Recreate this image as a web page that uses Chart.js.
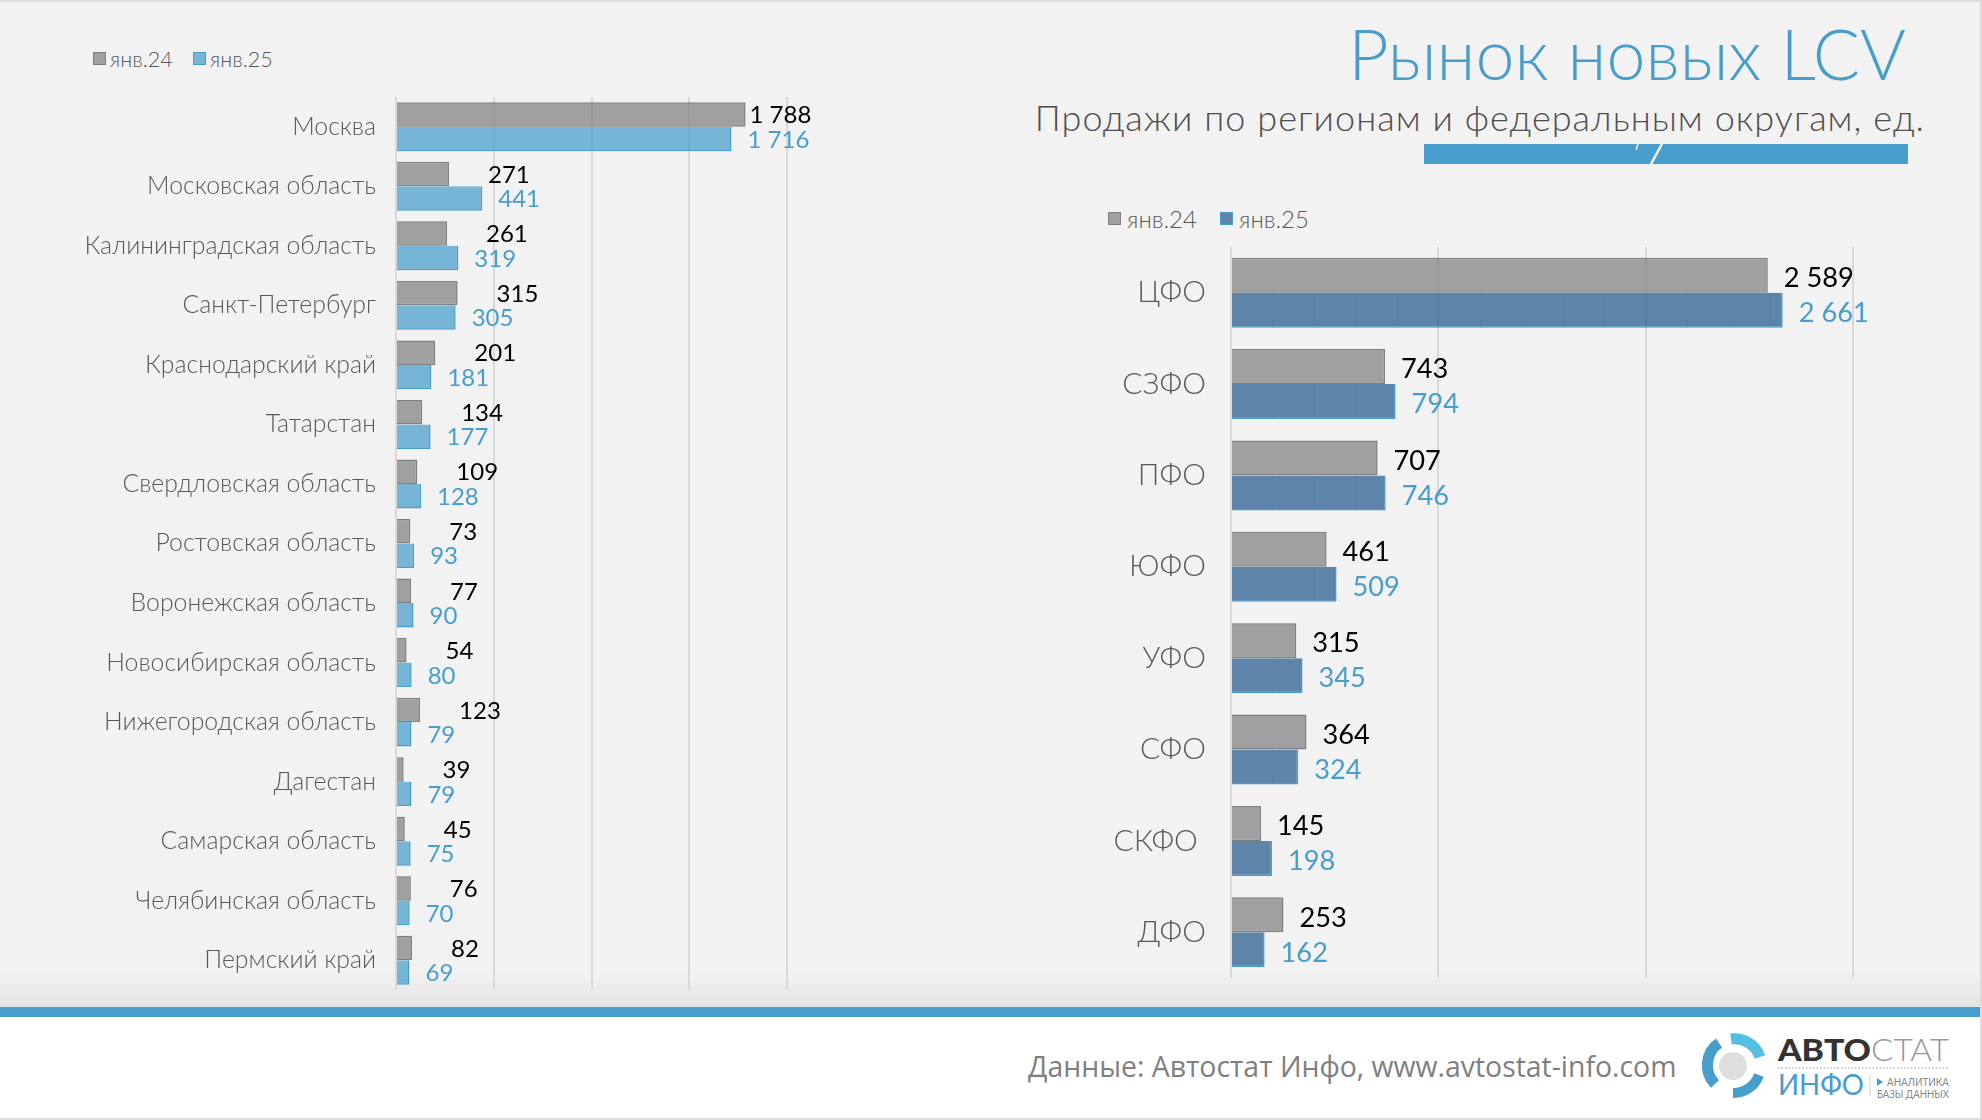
<!DOCTYPE html>
<html lang="ru">
<head>
<meta charset="utf-8">
<title>Рынок новых LCV</title>
<script src="https://cdn.jsdelivr.net/npm/chart.js@4/dist/chart.umd.min.js"></script>
<style>
  html, body { margin: 0; padding: 0; }
  body { width: 1982px; height: 1120px; position: relative; overflow: hidden; background: #f2f2f2; font-family: Lato, "Open Sans", sans-serif; }
  .abs { position: absolute; white-space: nowrap; }
  canvas { position: absolute; display: block; }
  #topline { left: 0; top: 0; width: 1982px; height: 2px; background: #dcdcdc; }
  #rightline { left: 1980px; top: 0; width: 2px; height: 1120px; background: #dcdcdc; }
  #shade { left: 0; top: 972px; width: 1982px; height: 35px; background: linear-gradient(#f2f2f2, #e3e3e3); }
  #stripe { left: 0; top: 1007px; width: 1982px; height: 10px; background: #479dcb; }
  #footer { left: 0; top: 1017px; width: 1982px; height: 101px; background: #fff; border-bottom: 2px solid #dcdcdc; }
  #title { right: 76px; top: 11px; font-size: 70px; line-height: 84px; color: #479dcb; font-weight: 300; }
  #subtitle { right: 57px; top: 95px; font-size: 36px; letter-spacing: 1.05px; line-height: 44px; color: #4d4d4d; font-weight: 300; }
  #source { left: 1028px; top: 1046px; font-family: "Open Sans", sans-serif; font-size: 28.4px; line-height: 40px; color: #7f7f7f; }
  .legend { line-height: 26px; color: #595959; font-weight: 300; }
  .legend i { position: absolute; top: 6px; width: 11px; height: 11px; border: 1px solid; }
  .legend span { position: absolute; top: 0; }
</style>
</head>
<body>
<div class="abs" id="topline"></div>
<div class="abs" id="shade"></div>
<div class="abs" id="stripe"></div>
<div class="abs" id="footer"></div>
<div class="abs" id="rightline"></div>

<div class="abs" id="title">Рынок новых LCV</div>
<div class="abs" id="subtitle">Продажи по регионам и федеральным округам, ед.</div>
<svg class="abs" style="left:1424px;top:144px" width="484" height="20">
  <rect width="484" height="20" fill="#479dcb"/>
  <path d="M238 0 L227 20" stroke="#f2f2f2" stroke-width="2.5"/>
  <path d="M214 0 L212 6" stroke="#f2f2f2" stroke-width="1.5"/>
</svg>

<div class="abs legend" id="legendLeft" style="left:0;top:46px;font-size:21.5px"></div>
<div class="abs legend" id="legendRight" style="left:0;top:206px;font-size:24px"></div>

<canvas id="regionChart" style="left:0;top:97px" width="900" height="893"></canvas>
<canvas id="districtChart" style="left:1000px;top:247px" width="980" height="731"></canvas>

<div class="abs" id="source">Данные: Автостат Инфо, www.avtostat-info.com</div>

<svg class="abs" style="left:1700px;top:1030px" width="260" height="75" font-family="Lato, sans-serif">
  <circle cx="33" cy="36" r="14" fill="#dedede"/>
  <path d="M31 9 A27 27 0 0 1 60 27" fill="none" stroke="#54bfe0" stroke-width="11"/>
  <path d="M19 13 A27 27 0 0 0 15 54" fill="none" stroke="#479dcb" stroke-width="11"/>
  <path d="M59 45 A27 27 0 0 1 33 63" fill="none" stroke="#479dcb" stroke-width="10"/>
  <text x="78" y="31" font-size="31" font-weight="900" fill="#333" textLength="93" lengthAdjust="spacingAndGlyphs">АВТО</text>
  <text x="171" y="31" font-size="31" font-weight="300" fill="#999" textLength="78" lengthAdjust="spacingAndGlyphs">СТАТ</text>
  <line x1="78" y1="38" x2="249" y2="38" stroke="#bbb" stroke-width="1.5" stroke-dasharray="1.5 2"/>
  <text x="78" y="65" font-size="28" fill="#479dcb" textLength="86" lengthAdjust="spacingAndGlyphs">ИНФО</text>
  <line x1="170" y1="45" x2="170" y2="66" stroke="#ccc" stroke-width="1"/>
  <path d="M177 48 L183 52 L177 56 Z" fill="#479dcb"/>
  <text x="187" y="56" font-size="11" fill="#888" textLength="62" lengthAdjust="spacingAndGlyphs">АНАЛИТИКА</text>
  <text x="177" y="68" font-size="11" fill="#888" textLength="72" lengthAdjust="spacingAndGlyphs">БАЗЫ ДАННЫХ</text>
</svg>

<script>
// данные с картинки
const seriesNames = ['янв.24', 'янв.25'];

const regions = ['Москва', 'Московская область', 'Калининградская область', 'Санкт-Петербург',
  'Краснодарский край', 'Татарстан', 'Свердловская область', 'Ростовская область',
  'Воронежская область', 'Новосибирская область', 'Нижегородская область', 'Дагестан',
  'Самарская область', 'Челябинская область', 'Пермский край'];
const regions24 = [1788, 271, 261, 315, 201, 134, 109, 73, 77, 54, 123, 39, 45, 76, 82];
const regions25 = [1716, 441, 319, 305, 181, 177, 128, 93, 90, 80, 79, 79, 75, 70, 69];

const districts = ['ЦФО', 'СЗФО', 'ПФО', 'ЮФО', 'УФО', 'СФО', 'СКФО\u00a0', 'ДФО'];
const districts24 = [2589, 743, 707, 461, 315, 364, 145, 253];
const districts25 = [2661, 794, 746, 509, 345, 324, 198, 162];

const GRAY_FILL = 'rgba(127,127,127,0.72)', GRAY_LINE = '#7f7f7f';
const SKY_FILL = 'rgba(71,157,203,0.72)', BLUE_LINE = '#479dcb';
const STEEL_FILL = 'rgba(33,85,139,0.7)';
const FONT = 'Lato, "Open Sans", sans-serif';

function fmt(v) {
  return String(v).replace(/\B(?=(\d{3})+$)/g, ' ');
}

// подписи значений: левый край на заданном расстоянии от конца столбца
const valueLabels = {
  id: 'valueLabels',
  afterDatasetsDraw(chart, args, opts) {
    const ctx = chart.ctx;
    ctx.save();
    ctx.font = opts.size + 'px ' + FONT;
    ctx.textBaseline = 'middle';
    ctx.textAlign = 'left';
    chart.data.datasets.forEach((ds, d) => {
      chart.getDatasetMeta(d).data.forEach((bar, i) => {
        const gap = typeof opts.gaps[d] === 'function' ? opts.gaps[d](i) : opts.gaps[d];
        ctx.fillStyle = d === 0 ? '#000' : BLUE_LINE;
        ctx.fillText(fmt(ds.data[i]), bar.x + gap, bar.y + opts.dy);
      });
    });
    ctx.restore();
  }
};

// тонкие вертикальные линии внутри синих столбцов правого графика
const barStripes = {
  id: 'barStripes',
  afterDatasetsDraw(chart, args, opts) {
    if (!opts.step) return;
    const ctx = chart.ctx, xScale = chart.scales.x;
    ctx.save();
    ctx.strokeStyle = 'rgba(60,105,150,0.2)';
    ctx.lineWidth = 1;
    chart.getDatasetMeta(1).data.forEach((bar, i) => {
      for (let v = opts.step; v < chart.data.datasets[1].data[i]; v += opts.step) {
        const x = Math.round(xScale.getPixelForValue(v)) + 0.5;
        ctx.beginPath();
        ctx.moveTo(x, bar.y - bar.height / 2);
        ctx.lineTo(x, bar.y + bar.height / 2);
        ctx.stroke();
      }
    });
    ctx.restore();
  }
};

function makeChart(id, cfg) {
  return new Chart(document.getElementById(id), {
    type: 'bar',
    plugins: [valueLabels, barStripes],
    data: {
      labels: cfg.labels,
      datasets: [
        { label: seriesNames[0], data: cfg.first, backgroundColor: GRAY_FILL, borderColor: GRAY_LINE,
          borderWidth: { top: 1.5, right: 1.5, bottom: 1.5, left: 0 } },
        { label: seriesNames[1], data: cfg.second, backgroundColor: cfg.fill, borderColor: BLUE_LINE,
          borderWidth: { top: 0, right: 1.5, bottom: 1.5, left: 0 } }
      ]
    },
    options: {
      indexAxis: 'y',
      responsive: false,
      animation: false,
      devicePixelRatio: 1,
      layout: { padding: { right: cfg.right } },
      datasets: { bar: { categoryPercentage: cfg.catPct, barPercentage: 1 } },
      scales: {
        x: {
          min: 0,
          max: cfg.max,
          ticks: { display: false, stepSize: cfg.step },
          border: { display: false },
          grid: { color: '#d9d9d9', lineWidth: 2, drawTicks: false }
        },
        y: {
          // ширина оси фиксирована, отступы подписей не должны сжимать область графика
          afterFit(scale) {
            scale.width = cfg.left;
            scale.paddingTop = 0;
            scale.paddingBottom = 0;
          },
          border: { display: false },
          grid: { display: false },
          ticks: { color: '#595959', padding: cfg.tickPad, autoSkip: false, font: { family: FONT, size: cfg.tickSize, weight: 300 } }
        }
      },
      plugins: {
        legend: { display: false },
        tooltip: { enabled: false },
        valueLabels: { size: cfg.labelSize, gaps: cfg.gaps, dy: cfg.labelDy },
        barStripes: { step: cfg.stripeStep }
      }
    }
  });
}

makeChart('regionChart', {
  labels: regions, first: regions24, second: regions25, fill: SKY_FILL,
  max: 2000, step: 500, left: 396, right: 113, catPct: 0.822, tickPad: 12, tickSize: 24.8, labelSize: 24, labelDy: 1,
  gaps: [i => (i === 0 ? 4 : 39), 16]
});
makeChart('districtChart', {
  labels: districts, first: districts24, second: districts25, fill: STEEL_FILL,
  max: 3000, step: 1000, left: 231, right: 127, catPct: 0.766, tickPad: 17, tickSize: 30, labelSize: 27.2, labelDy: 3,
  gaps: [16, 16], stripeStep: 200
});

// легенды
function buildLegend(id, fills, pos, textGap) {
  const box = document.getElementById(id);
  seriesNames.forEach((name, i) => {
    const sw = document.createElement('i');
    sw.style.left = pos[i] + 'px';
    sw.style.background = fills[i];
    sw.style.borderColor = i === 0 ? GRAY_LINE : BLUE_LINE;
    const txt = document.createElement('span');
    txt.style.left = (pos[i] + textGap) + 'px';
    txt.textContent = name;
    box.append(sw, txt);
  });
}
buildLegend('legendLeft', ['#a0a0a0', '#77b5d6'], [93, 193], 17);
buildLegend('legendRight', ['#a0a0a0', '#5f84aa'], [1108, 1220], 19);
</script>
</body>
</html>
